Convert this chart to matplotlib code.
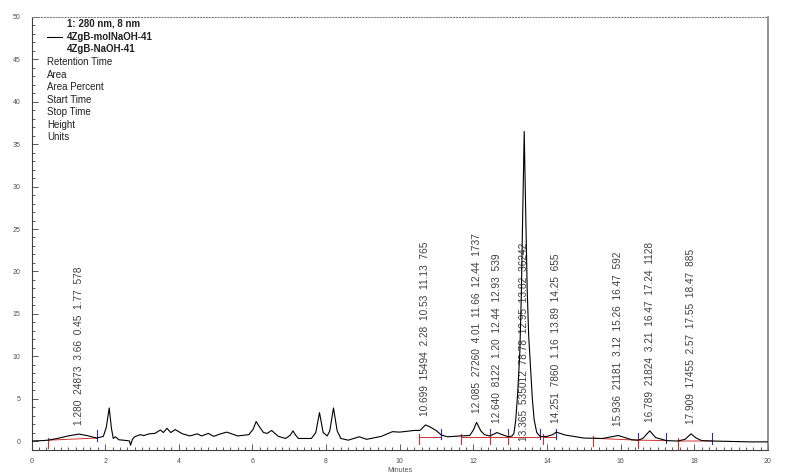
import matplotlib.pyplot as plt
import numpy as np
from matplotlib.ticker import MultipleLocator

plt.rcParams['font.family'] = ['Liberation Sans', 'DejaVu Sans']

# Chromatogram trace (minutes, mAU)
time = [0.00, 0.30, 0.45, 0.70, 1.00, 1.28, 1.50, 1.77, 1.95, 2.03, 2.11, 2.17,
        2.22, 2.28, 2.37, 2.60, 2.66, 2.69, 2.74, 2.80, 2.95, 3.05, 3.20, 3.35,
        3.50, 3.58, 3.68, 3.78, 3.90, 4.10, 4.30, 4.50, 4.62, 4.80, 4.95, 5.10,
        5.30, 5.60, 5.90, 6.02, 6.10, 6.20, 6.30, 6.40, 6.52, 6.70, 6.90, 7.03,
        7.10, 7.17, 7.25, 7.60, 7.72, 7.82, 7.92, 8.03, 8.10, 8.20, 8.30, 8.40,
        8.60, 8.90, 9.10, 9.50, 9.80, 10.00, 10.40, 10.55, 10.70, 10.85, 11.00,
        11.13, 11.30, 11.66, 11.90, 12.00, 12.085, 12.20, 12.30, 12.44, 12.55,
        12.64, 12.75, 12.95, 13.05, 13.10, 13.15, 13.20, 13.26, 13.30, 13.34,
        13.38, 13.42, 13.46, 13.50, 13.54, 13.60, 13.65, 13.72, 13.82, 14.00,
        14.15, 14.251, 14.50, 15.00, 15.50, 15.936, 16.30, 16.47, 16.60, 16.789,
        16.95, 17.24, 17.55, 17.75, 17.909, 18.05, 18.20, 18.50, 19.00, 19.50,
        20.00]
signal = [0.00, 0.05, 0.10, 0.30, 0.60, 0.82, 0.65, 0.35, 0.55, 1.60, 3.90, 1.50,
          0.30, 0.50, 0.15, 0.05, 0.00, -0.50, 0.20, 0.50, 0.75, 0.65, 0.85, 0.90,
          1.30, 1.00, 1.50, 1.00, 1.35, 0.85, 0.60, 0.85, 0.60, 0.90, 0.55, 0.80,
          1.05, 0.60, 0.75, 1.40, 2.30, 1.60, 1.00, 0.90, 1.25, 0.55, 0.30, 0.70,
          1.20, 0.70, 0.30, 0.30, 1.00, 3.35, 1.00, 0.60, 1.20, 3.90, 1.20, 0.30,
          0.10, 0.50, 0.20, 0.55, 1.10, 1.05, 1.25, 1.25, 1.90, 1.60, 1.20,
          0.70, 0.50, 0.60, 0.65, 1.30, 2.20, 1.20, 0.75, 0.60, 0.80,
          1.00, 0.80, 0.50, 0.60, 0.90, 2.50, 5.50, 10.40, 17.0, 27.0,
          36.5, 27.0, 18.0, 12.5, 9.50, 5.00, 2.50, 1.00, 0.50, 0.55,
          0.75, 1.05, 0.70, 0.35, 0.30, 0.65, 0.15, 0.10, 0.30, 1.20,
          0.40, 0.05, 0.00, 0.20, 0.85, 0.35, 0.05, 0.00, -0.05, -0.10,
          -0.10]

# Peak table
ret_time = ['1.280', '10.699', '12.085', '12.640', '13.365', '14.251', '15.936', '16.789', '17.909']
area = ['24873', '15494', '27260', '8122', '535012', '7860', '21181', '21824', '17455']
area_pct = ['3.66', '2.28', '4.01', '1.20', '78.78', '1.16', '3.12', '3.21', '2.57']
start_time = ['0.45', '10.53', '11.66', '12.44', '12.95', '13.89', '15.26', '16.47', '17.55']
stop_time = ['1.77', '11.13', '12.44', '12.93', '13.82', '14.25', '16.47', '17.24', '18.47']
height = ['578', '765', '1737', '539', '36242', '655', '592', '1128', '885']

legend_lines = ['Retention Time', 'Area', 'Area Percent', 'Start Time', 'Stop Time', 'Height', 'Units']

fig = plt.figure(figsize=(8, 4.76), dpi=100)
ax = fig.add_axes([0.0394, 0.0546, 0.9206, 0.9097])

ax.plot(time, signal, color='black', linewidth=0.8, zorder=3)

# Integration baselines and start/stop marks
for i in range(len(ret_time)):
    t0, t1 = float(start_time[i]), float(stop_time[i])
    b0, b1 = np.interp(t0, time, signal), np.interp(t1, time, signal)
    b0 = min(b0, 0.5)
    b1 = min(b1, 0.5)
    ax.plot([t0, t1], [b0, b1], color='#d03030', linewidth=0.7, zorder=2)
    ax.plot([t0, t0], [b0 - 0.9, b0 + 0.3], color='#d03030', linewidth=0.8, zorder=2)
    ax.plot([t1, t1], [b1 - 0.3, b1 + 0.9], color='#2030c0', linewidth=0.8, zorder=2)

# Peak labels
for i in range(len(ret_time)):
    rt = float(ret_time[i])
    top = np.interp(rt, time, signal)
    base = top + 1.1 if top < 20 else 0.0
    label = '  '.join([ret_time[i], area[i], area_pct[i], start_time[i], stop_time[i], height[i]])
    ax.text(rt, base, label, rotation=90, ha='center', va='bottom',
            fontsize=7.3, color='#404040', zorder=1)

# Header / legend text
ax.text(0.048, 0.986, '1: 280 nm, 8 nm', transform=ax.transAxes, fontsize=7,
        fontweight='bold', va='center', color='#202020')
ax.plot([0.021, 0.041], [0.954, 0.954], transform=ax.transAxes, color='black', linewidth=0.8)
ax.text(0.048, 0.954, '4ZgB-molNaOH-41', transform=ax.transAxes, fontsize=7,
        fontweight='bold', va='center', color='#202020')
ax.text(0.048, 0.926, '4ZgB-NaOH-41', transform=ax.transAxes, fontsize=7,
        fontweight='bold', va='center', color='#202020')
for k, s in enumerate(legend_lines):
    ax.text(0.021, 0.896 - k * 0.0289, s, transform=ax.transAxes, fontsize=7,
            va='center', color='#202020')

ax.set_xlim(0, 20)
ax.set_ylim(-1.06, 50)
ax.xaxis.set_major_locator(MultipleLocator(2))
ax.xaxis.set_minor_locator(MultipleLocator(0.2))
ax.yaxis.set_major_locator(MultipleLocator(5))
ax.yaxis.set_minor_locator(MultipleLocator(1))
ax.tick_params(which='both', direction='in', labelsize=5, labelcolor='#505050',
               color='#404040', width=0.6)
ax.tick_params(which='major', length=4)
ax.tick_params(which='minor', length=2)
ax.tick_params(axis='x', pad=6)
ax.tick_params(axis='y', pad=8)

ax.spines['top'].set_linestyle(':')
ax.spines['top'].set_color('#808080')
ax.spines['right'].set_color('#808080')
ax.spines['right'].set_linewidth(1.2)
ax.spines['left'].set_color('#404040')
ax.spines['bottom'].set_color('#404040')

fig.text(0.5, 0.0126, 'Minutes', ha='center', va='center', fontsize=5, color='#505050')

fig.savefig('out.png', dpi=100)
